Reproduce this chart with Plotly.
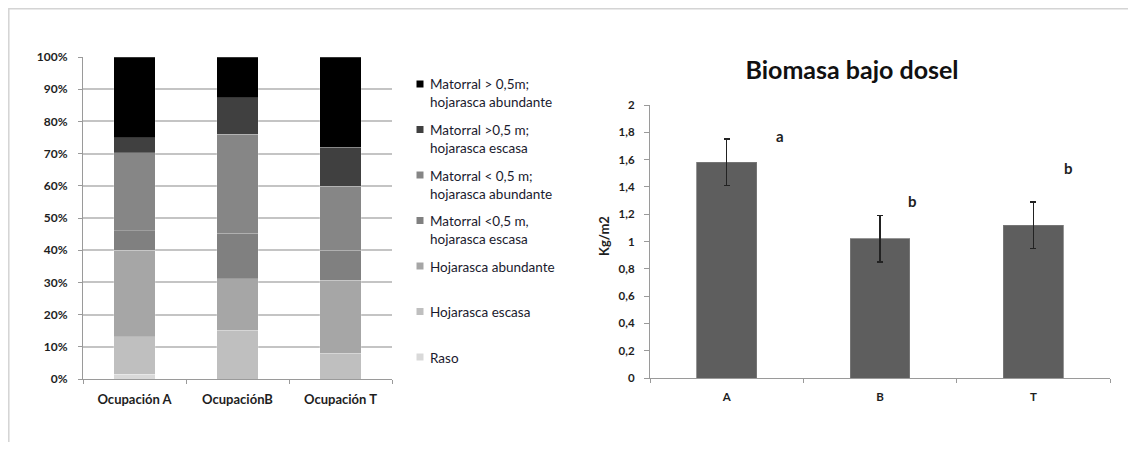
import plotly.graph_objects as go

# ---------------- data ----------------
occupations = ["Ocupación A", "OcupaciónB", "Ocupación T"]
cover_classes = [
    "Raso",
    "Hojarasca escasa",
    "Hojarasca abundante",
    "Matorral <0,5 m,<br>hojarasca escasa",
    "Matorral < 0,5 m;<br>hojarasca abundante",
    "Matorral >0,5 m;<br>hojarasca escasa",
    "Matorral > 0,5m;<br>hojarasca abundante",
]
raso = [1.5, 0.0, 0.0]
hoj_escasa = [11.6, 15.2, 8.0]
hoj_abundante = [26.9, 16.0, 22.7]
mat_bajo_escasa = [6.0, 14.0, 9.3]
mat_bajo_abundante = [24.2, 30.8, 19.9]
mat_alto_escasa = [4.8, 11.4, 12.0]
mat_alto_abundante = [25.0, 12.6, 28.1]
cover_values = [raso, hoj_escasa, hoj_abundante, mat_bajo_escasa,
                mat_bajo_abundante, mat_alto_escasa, mat_alto_abundante]
cover_colors = ["#d9d9d9", "#bfbfbf", "#a6a6a6", "#808080", "#868686", "#404040", "#000000"]

treatments = ["A", "B", "T"]
biomass = [1.58, 1.02, 1.12]
biomass_err = [0.17, 0.17, 0.17]
sig_letters = ["a", "b", "b"]
letter_y = [1.77, 1.30, 1.54]
letter_xshift = [53, 32, 35]

# page body has an 8px margin: figure is drawn inside it
OFF = 8
W, H = 1136 - 2 * OFF, 450 - 2 * OFF
FONT = "Lato"
TXT = "#1e1e1e"

def px_x(p):
    return (p - OFF) / W

def px_y(p):
    return 1 - (p - OFF) / H

fig = go.Figure()

for name, vals, col in zip(cover_classes, cover_values, cover_colors):
    fig.add_trace(go.Bar(
        x=occupations, y=vals, name=name, marker_color=col,
        marker_line=dict(color="rgba(255,255,255,0.35)", width=0.6),
        width=0.4, xaxis="x", yaxis="y", showlegend=False,
    ))

fig.add_trace(go.Bar(
    x=treatments, y=biomass, marker_color="#5e5e5e",
    marker_line=dict(color="#7a7a7a", width=0.8),
    width=0.39, xaxis="x2", yaxis="y2", showlegend=False,
    error_y=dict(type="data", array=biomass_err, color="#222222", thickness=1.6, width=3),
))

# legend drawn as swatches + labels
legend_top = 84
legend_step = 45.5
annotations = []
shapes = []
for i, (name, col) in enumerate(zip(cover_classes[::-1], cover_colors[::-1])):
    cy = legend_top + i * legend_step
    shapes.append(dict(type="rect", xref="paper", yref="paper",
                       x0=px_x(416.5), x1=px_x(423.5), y0=px_y(cy + 3.5), y1=px_y(cy - 3.5),
                       fillcolor=col, line=dict(width=0)))
    annotations.append(dict(xref="paper", yref="paper", x=px_x(428), y=px_y(cy - 9.5),
                            xanchor="left", yanchor="top", align="left", showarrow=False,
                            text=name, font=dict(family=FONT, size=13.5, color="#1a1a2e")))

for t, letter, ly, xs in zip(treatments, sig_letters, letter_y, letter_xshift):
    annotations.append(dict(xref="x2", yref="y2", x=t, y=ly, xshift=xs, text="<b>" + letter + "</b>",
                            showarrow=False, font=dict(family=FONT, size=15, color=TXT)))

annotations.append(dict(xref="paper", yref="paper", x=px_x(604), y=px_y(236),
                        text="<b>Kg/m2</b>", textangle=-90, showarrow=False,
                        font=dict(family=FONT, size=13, color=TXT)))

# outer border (light frame along the top and left edges)
shapes.append(dict(type="rect", xref="paper", yref="paper", x0=0.8 / W, y0=-0.05,
                   x1=1.05, y1=1 - 0.8 / H, line=dict(color="#d4d4d4", width=1.5),
                   fillcolor="rgba(0,0,0,0)"))

ytick_font = dict(family=FONT, size=12, color=TXT, weight="bold")
xtick_font = dict(family=FONT, size=13, color=TXT, weight="bold")
r_tick_font = dict(family=FONT, size=11.5, color=TXT, weight="bold")

fig.update_layout(
    width=W, height=H, template="none",
    paper_bgcolor="white", plot_bgcolor="white",
    margin=dict(l=0, r=0, t=0, b=0),
    barmode="stack", separators=",.",
    font=dict(family=FONT, size=12, color=TXT),
    title=dict(text="<b>Biomasa bajo dosel</b>", x=px_x(852), xanchor="center",
               y=px_y(70), yanchor="middle", yref="container",
               font=dict(family=FONT, size=25, color="#111111")),
    xaxis=dict(domain=[px_x(83), px_x(392)], anchor="y", range=[-0.5, 2.5],
               showline=True, linecolor="#9a9a9a", linewidth=1.2,
               ticks="outside", tickson="boundaries", ticklen=4, tickcolor="#9a9a9a",
               showgrid=False, automargin=False, ticklabelstandoff=8,
               tickfont=xtick_font),
    yaxis=dict(domain=[px_y(379), px_y(57)], anchor="x", range=[0, 100],
               dtick=10, ticksuffix="%", showline=True, linecolor="#9a9a9a", linewidth=1.2,
               ticks="outside", ticklen=4, tickcolor="#9a9a9a",
               showgrid=True, gridcolor="#c4c4c4", gridwidth=1.5, zeroline=False,
               automargin=False, ticklabelstandoff=8,
               tickfont=ytick_font),
    xaxis2=dict(domain=[px_x(650), px_x(1110)], anchor="y2", range=[-0.5, 2.5],
                showline=True, linecolor="#9a9a9a", linewidth=1.2,
                ticks="outside", tickson="boundaries", ticklen=4, tickcolor="#9a9a9a",
                showgrid=False, automargin=False, ticklabelstandoff=8,
                tickfont=r_tick_font),
    yaxis2=dict(domain=[px_y(378), px_y(105)], anchor="x2", range=[0, 2],
                dtick=0.2, showline=True, linecolor="#9a9a9a", linewidth=1.2,
                ticks="outside", ticklen=5, tickcolor="#9a9a9a",
                showgrid=False, zeroline=False, automargin=False, ticklabelstandoff=7,
                tickfont=r_tick_font),
    annotations=annotations, shapes=shapes,
)

fig.write_html("out.html")
